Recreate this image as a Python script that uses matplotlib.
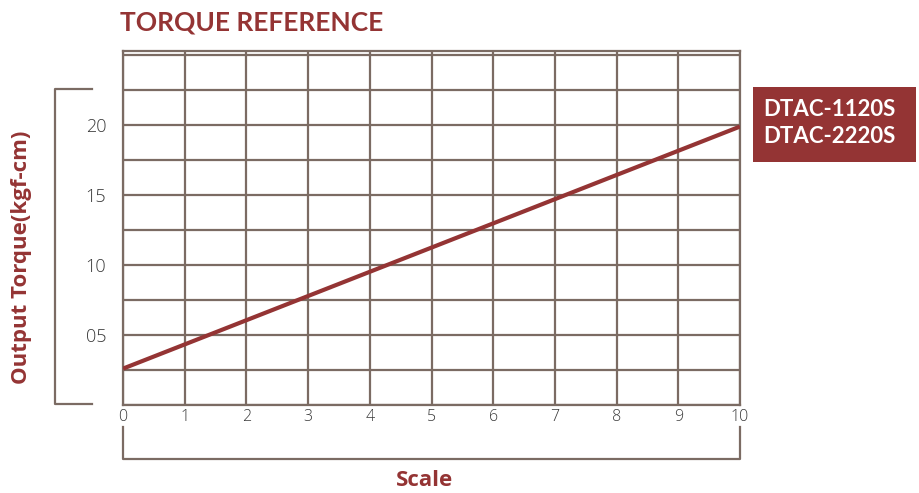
import matplotlib.pyplot as plt
from matplotlib.patches import Rectangle

# data
scale = [0, 10]
torque = [2.6, 19.9]
x_ticks = list(range(0, 11))
y_ticks = [5, 10, 15, 20]
y_tick_labels = ["05", "10", "15", "20"]
y_grid = [0, 2.5, 7.5, 12.5, 17.5, 22.5, 25]
models = ["DTAC-1120S", "DTAC-2220S"]

RED = "#943434"
GRID = "#7b6b63"
TXT = "#3a3a3a"

fig = plt.figure(figsize=(9.19, 4.93), dpi=100)
ax = fig.add_axes([123 / 919, 1 - 405 / 493, 617 / 919, 354 / 493])

ax.set_xlim(0, 10)
ax.set_ylim(0, 25.3)
ax.set_xticks(x_ticks, [str(t) for t in x_ticks])
ax.set_yticks(y_ticks, y_tick_labels)
ax.set_yticks(y_grid, minor=True)
ax.grid(True, which="major", axis="both", color=GRID, lw=1.6)
ax.grid(True, which="minor", axis="y", color=GRID, lw=1.6)
ax.tick_params(axis="both", which="both", length=0)
ax.tick_params(axis="x", labelsize=11.5, labelcolor=TXT, pad=3)
ax.tick_params(axis="y", labelsize=13, labelcolor=TXT, pad=12)
for lbl in ax.get_xticklabels() + ax.get_yticklabels():
    lbl.set_family("Open Sans")
    lbl.set_fontweight("light")
for s in ax.spines.values():
    s.set_color(GRID)
    s.set_linewidth(1.6)

ax.plot(scale, torque, color=RED, lw=3, solid_capstyle="butt", zorder=5)

# brackets around the axes
ax.plot([-0.050, -0.110, -0.110, -0.050], [0.893, 0.893, 0.004, 0.004],
        transform=ax.transAxes, clip_on=False, color=GRID, lw=1.6)
ax.plot([0.0, 0.0, 1.0, 1.0], [-0.062, -0.1525, -0.1525, -0.062],
        transform=ax.transAxes, clip_on=False, color=GRID, lw=1.6)

fig.text(120 / 919, 1 - 22 / 493, "TORQUE REFERENCE", color=RED, fontsize=19,
         fontweight="bold", family="Lato", ha="left", va="center")
fig.text(22 / 919, 1 - 257 / 493, "Output Torque(kgf-cm)", color=RED, fontsize=16,
         fontweight="bold", family="Open Sans", rotation=90, ha="center", va="center")
fig.text(425 / 919, 1 - 480 / 493, "Scale", color=RED, fontsize=16,
         fontweight="bold", family="Open Sans", ha="center", va="center")

# model label box
fig.patches.append(Rectangle((753 / 919, 1 - 162 / 493), 163 / 919, 75 / 493,
                             transform=fig.transFigure, facecolor=RED, edgecolor="none"))
fig.text(763 / 919, 1 - 123 / 493, "\n".join(models), color="white", fontsize=16,
         fontweight="bold", family="Lato", ha="left", va="center", linespacing=1.4)

fig.savefig("out.png", dpi=100)
